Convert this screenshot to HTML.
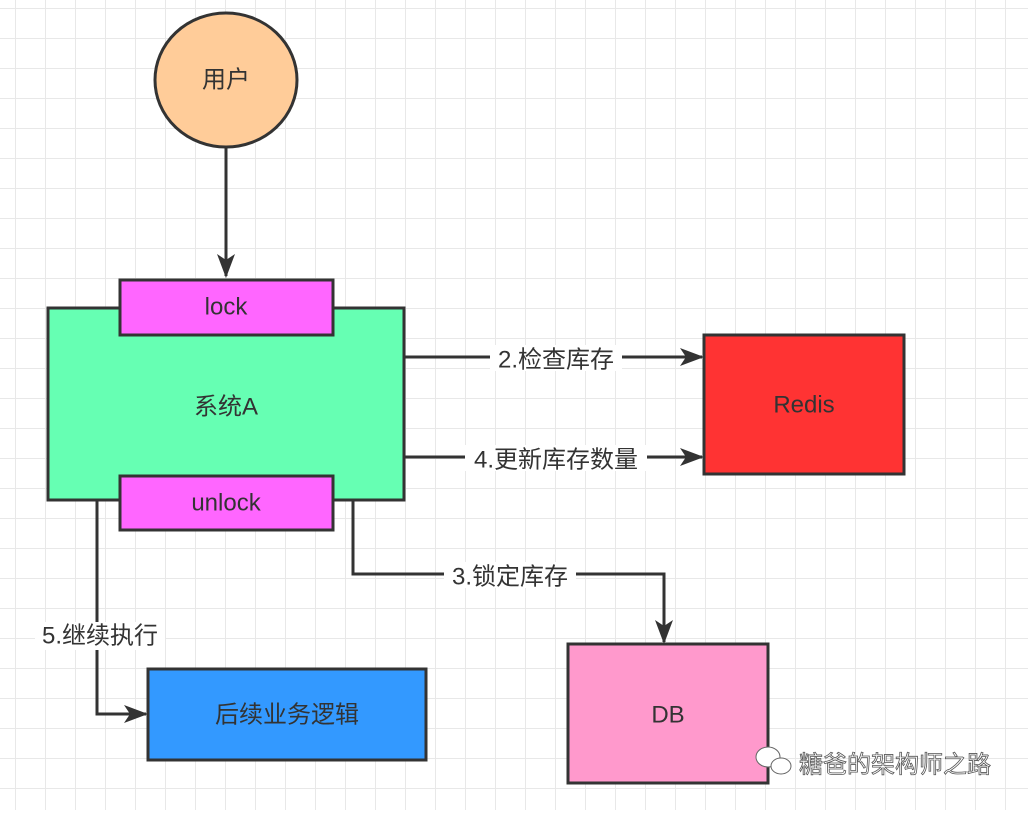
<!DOCTYPE html>
<html><head><meta charset="utf-8"><style>
body{margin:0;width:1028px;height:810px;overflow:hidden;background:#fff;font-family:"Liberation Sans","Noto Sans CJK SC",sans-serif;}
</style></head><body>
<svg width="1028" height="810" xmlns="http://www.w3.org/2000/svg" font-family="Liberation Sans, Noto Sans CJK SC, sans-serif">
<defs>
<pattern id="g" x="15" y="8" width="30" height="30" patternUnits="userSpaceOnUse">
<path d="M0 0H30M0 0V30" stroke="#e8e8e8" stroke-width="2" fill="none"/>
</pattern>
<marker id="a" markerWidth="24" markerHeight="20" refX="22" refY="10" orient="auto" markerUnits="userSpaceOnUse"><path d="M0 1L24 10L0 19L6 10Z" fill="#333"/></marker>
</defs>
<rect width="1028" height="810" fill="url(#g)"/>
<g stroke="#333" stroke-width="3" fill="none">
<path d="M226 148V276" marker-end="url(#a)" />
<path d="M404 357H702" marker-end="url(#a)"/>
<path d="M404 457H702" marker-end="url(#a)"/>
<path d="M353 500V574H664V642" marker-end="url(#a)"/>
<path d="M97 500V714H146" marker-end="url(#a)"/>
</g>
<ellipse cx="226" cy="80" rx="71" ry="67" fill="#FFCC99" stroke="#333" stroke-width="3"/>
<rect x="48" y="308" width="356" height="192" fill="#66FFB3" stroke="#333" stroke-width="3"/>
<rect x="120" y="280" width="213" height="55" fill="#FF66FF" stroke="#333" stroke-width="3"/>
<rect x="120" y="476" width="213" height="54" fill="#FF66FF" stroke="#333" stroke-width="3"/>
<rect x="704" y="335" width="200" height="139" fill="#FF3333" stroke="#333" stroke-width="3"/>
<rect x="568" y="644" width="200" height="139" fill="#FF99CC" stroke="#333" stroke-width="3"/>
<rect x="148" y="669" width="278" height="91" fill="#3399FF" stroke="#333" stroke-width="3"/>
<g fill="#fff">
<rect x="490" y="345" width="132" height="26"/>
<rect x="465" y="445" width="182" height="26"/>
<rect x="444" y="562" width="132" height="26"/>
<rect x="35" y="622" width="130" height="28"/>
</g>
<g font-size="24" fill="#333" text-anchor="middle" dominant-baseline="central">
<text x="226" y="80">用户</text>
<text x="226" y="307">lock</text>
<text x="226" y="407">系统A</text>
<text x="226" y="503">unlock</text>
<text x="804" y="405">Redis</text>
<text x="668" y="715">DB</text>
<text x="287" y="715">后续业务逻辑</text>
<text x="556" y="360">2.检查库存</text>
<text x="556" y="460">4.更新库存数量</text>
<text x="510" y="577">3.锁定库存</text>
<text x="100" y="636">5.继续执行</text>
<text x="895" y="765" fill="#fff" stroke="#555" stroke-width="0.8">糖爸的架构师之路</text>
</g>
<g fill="#fff" stroke="#666" stroke-width="1">
<ellipse cx="768" cy="757" rx="12" ry="10"/>
<ellipse cx="781" cy="766" rx="10" ry="8"/>
</g>
</svg>
</body></html>
